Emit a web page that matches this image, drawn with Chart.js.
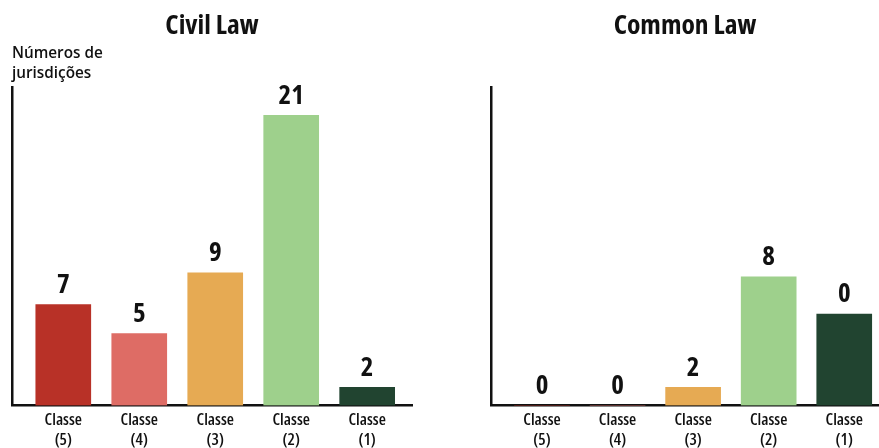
<!DOCTYPE html>
<html>
<head>
<meta charset="utf-8">
<script src="https://cdn.jsdelivr.net/npm/chart.js@4.4.1/dist/chart.umd.min.js"></script>
<style>
    html, body { margin: 0; padding: 0; background: #fff; overflow: hidden; width: 879px; height: 448px; }
    .panel { position: absolute; top: 0; height: 455px; }
    #civilWrap { left: 0; width: 440px; }
    #commonWrap { left: 440px; width: 439px; }
</style>
</head>
<body>
<div class="panel" id="civilWrap"><canvas id="civilChart"></canvas></div>
<div class="panel" id="commonWrap"><canvas id="commonChart"></canvas></div>
<script>
const classLabels = ["(5)", "(4)", "(3)", "(2)", "(1)"];
const barColors = ["#b83127", "#de6c65", "#e6aa53", "#9ed08c", "#214430"];

// numbers printed above the bars
const civilCounts = [7, 5, 9, 21, 2];
const commonCounts = [0, 0, 2, 8, 0];

// bar heights as drawn in the picture (not quite to scale with the printed numbers)
const civilBars = [7.3, 5.2, 9.6, 21, 1.3];
const commonBars = [0, 0, 1.3, 9.3, 6.6];

const FONT = "'Open Sans', sans-serif";
const INK = "#111";

// value labels above each bar
const valueLabels = {
    id: "valueLabels",
    afterDatasetsDraw(chart, args, opts) {
        const ctx = chart.ctx;
        const meta = chart.getDatasetMeta(0);
        ctx.save();
        ctx.font = "bold 27px " + FONT;
        ctx.fontStretch = "condensed";
        ctx.fillStyle = INK;
        ctx.textAlign = "center";
        ctx.textBaseline = "bottom";
        meta.data.forEach((bar, i) => {
            ctx.fillText(String(opts.counts[i]), bar.x, bar.y - 6);
        });
        ctx.restore();
    }
};

function makeChart(id, title, subtitle, counts, bars, pad, xMax) {
    const ctx = document.getElementById(id).getContext("2d");
    return new Chart(ctx, {
        type: "bar",
        data: {
            datasets: [{
                data: bars.map((v, i) => ({ x: i, y: v })),
                backgroundColor: barColors,
                barThickness: 55,
                borderWidth: 0
            }]
        },
        options: {
            responsive: true,
            maintainAspectRatio: false,
            animation: false,
            layout: { padding: pad },
            plugins: {
                legend: { display: false },
                tooltip: { enabled: false },
                title: {
                    display: true,
                    text: title,
                    color: INK,
                    // font-stretch rides along in the weight slot
                    font: { family: FONT, size: 27.5, weight: "condensed bold", lineHeight: 1.2 },
                    padding: { top: 10, bottom: subtitle ? 0 : 44 }
                },
                subtitle: {
                    display: !!subtitle,
                    text: subtitle || "",
                    align: "start",
                    color: INK,
                    font: { family: FONT, size: 15.3, weight: "600", lineHeight: 1.28 },
                    padding: { top: 1, bottom: 4 }
                },
                valueLabels: { counts: counts }
            },
            scales: {
                x: {
                    type: "linear",
                    offset: false,
                    min: -0.675,
                    max: xMax,
                    grid: { display: false, drawTicks: false },
                    border: { display: true, color: INK, width: 2.5 },
                    ticks: {
                        stepSize: 1,
                        includeBounds: false,
                        autoSkip: false,
                        maxRotation: 0,
                        padding: 5,
                        color: INK,
                        font: { family: FONT, size: 16.5, weight: "condensed 600", lineHeight: 1.2 },
                        callback: v => Number.isInteger(v) && v >= 0 && v < classLabels.length
                            ? ["Classe", classLabels[v]] : ""
                    }
                },
                y: {
                    min: 0,
                    max: 23.04,
                    grid: { display: false, drawTicks: false },
                    border: { display: true, color: INK, width: 2.5 },
                    ticks: { display: false }
                }
            }
        },
        plugins: [valueLabels]
    });
}

makeChart("civilChart", "Civil Law", ["Números de", "jurisdições"], civilCounts, civilBars,
    { left: 12, right: 28, top: 0, bottom: 0 }, 4.59);
makeChart("commonChart", "Common Law", null, commonCounts, commonBars,
    { left: 51, right: 0, top: 0, bottom: 0 }, 4.46);
</script>
</body>
</html>
